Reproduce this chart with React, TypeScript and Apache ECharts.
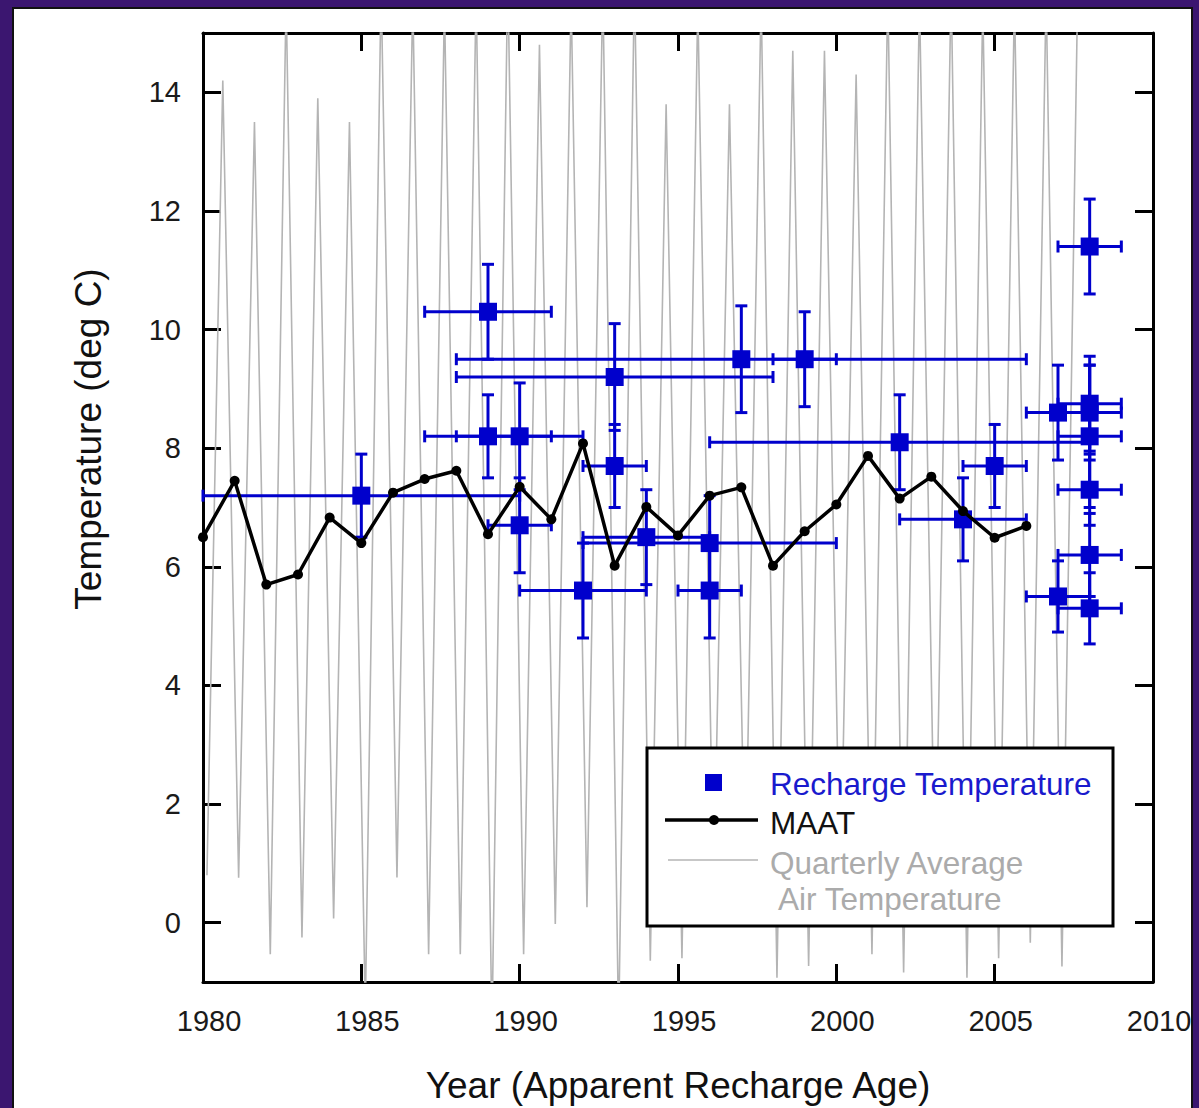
import React, { useEffect, useRef } from "react";
import * as echarts from "echarts";

// ---- Axis ticks ----
const yearTicks = [1980, 1985, 1990, 1995, 2000, 2005, 2010];
const tempTicks = [0, 2, 4, 6, 8, 10, 12, 14];

// ---- Mean annual air temperature (MAAT) ----
const maatYears = [
  1980, 1981, 1982, 1983, 1984, 1985, 1986, 1987, 1988, 1989, 1990, 1991, 1992, 1993,
  1994, 1995, 1996, 1997, 1998, 1999, 2000, 2001, 2002, 2003, 2004, 2005, 2006,
];
const maatValues = [
  6.5, 7.45, 5.7, 5.87, 6.83, 6.4, 7.25, 7.48, 7.62, 6.55, 7.35, 6.8, 8.08, 6.02,
  7.01, 6.53, 7.2, 7.34, 6.02, 6.6, 7.05, 7.87, 7.15, 7.52, 6.94, 6.49, 6.69,
];

// ---- Quarterly average air temperature: winter-quarter lows, summer-quarter highs ----
const qatYears = [
  1980, 1981, 1982, 1983, 1984, 1985, 1986, 1987, 1988, 1989, 1990, 1991, 1992, 1993,
  1994, 1995, 1996, 1997, 1998, 1999, 2000, 2001, 2002, 2003, 2004, 2005, 2006, 2007,
];
const qatWinter = [
  0.8, 0.76, -0.53, -0.25, 0.07, -1.5, 0.76, -0.53, -0.53, -1.8, -0.53, -0.02, 0.26, -1.8,
  -0.64, -0.6, 0.4, 0.5, -0.93, -0.73, 0.3, -0.53, -0.84, 0.3, -0.93, -0.6, -0.34, -0.74,
];
const qatSummer = [
  14.2, 13.5, 15.6, 13.9, 13.5, 15.8, 15.6, 15.5, 15.7, 16.0, 14.8, 15.6, 15.8, 15.9,
  13.8, 15.5, 13.8, 15.6, 14.7, 14.7, 14.3, 15.7, 15.6, 15.8, 15.5, 15.6, 15.7, 15.8,
];
// mid-points of the first (winter) and third (summer) quarters, as fractions of a year
const WINTER_QUARTER_MID = 0.125;
const SUMMER_QUARTER_MID = 0.625;

// ---- Recharge temperature with apparent-age and temperature uncertainties ----
const rtYear = [
  1985, 1989, 1989, 1990, 1990, 1992, 1993, 1993, 1994, 1996, 1996, 1997, 1999, 2002,
  2004, 2005, 2007, 2007, 2008, 2008, 2008, 2008, 2008, 2008, 2008,
];
const rtTemp = [
  7.2, 10.3, 8.2, 8.2, 6.7, 5.6, 9.2, 7.7, 6.5, 6.4, 5.6, 9.5, 9.5, 8.1,
  6.8, 7.7, 8.6, 5.5, 11.4, 8.75, 8.6, 8.2, 7.3, 6.2, 5.3,
];
const rtYearErr = [5, 2, 2, 2, 1, 2, 5, 1, 2, 4, 1, 9, 1, 6, 2, 1, 1, 1, 1, 1, 1, 1, 1, 1, 1];
const rtTempErr = [
  0.7, 0.8, 0.7, 0.9, 0.8, 0.8, 0.9, 0.7, 0.8, 0.8, 0.8, 0.9, 0.8, 0.8,
  0.7, 0.7, 0.8, 0.6, 0.8, 0.8, 0.8, 1.2, 0.6, 0.7, 0.6,
];

const BLUE = "#0000cc";
const GRAY = "#b4b4b4";
const FONT = '"Liberation Sans", Arial, Helvetica, sans-serif';

function buildOption(): echarts.EChartsOption {
  const qatData: number[][] = [];
  qatYears.forEach((y, i) => {
    qatData.push([y + WINTER_QUARTER_MID, qatWinter[i]]);
    qatData.push([y + SUMMER_QUARTER_MID, qatSummer[i]]);
  });
  const maatData = maatYears.map((y, i) => [y, maatValues[i]]);
  const rtData = rtYear.map((y, i) => [y, rtTemp[i]]);
  const rtErrData = rtYear.map((y, i) => [y, rtTemp[i], rtYearErr[i], rtTempErr[i]]);

  const axisLine = { show: true, onZero: false, lineStyle: { color: "#000", width: 3 } };
  const tick = { show: true, inside: true, length: 18, lineStyle: { color: "#000", width: 3 } };

  return {
    animation: false,
    grid: { left: 203, right: 46, top: 33, bottom: 126, containLabel: false },
    xAxis: [
      {
        type: "value",
        min: yearTicks[0],
        max: yearTicks[yearTicks.length - 1],
        interval: 5,
        position: "bottom",
        axisLine,
        axisTick: tick,
        splitLine: { show: false },
        axisLabel: {
          fontSize: 29,
          color: "#1a1a1a",
          fontFamily: FONT,
          margin: 24,
          padding: [0, 0, 0, 12],
          formatter: (v: number) => String(v),
        },
      },
      {
        type: "value",
        min: yearTicks[0],
        max: yearTicks[yearTicks.length - 1],
        interval: 5,
        position: "top",
        axisLine,
        axisTick: tick,
        splitLine: { show: false },
        axisLabel: { show: false },
      },
    ],
    yAxis: [
      {
        type: "value",
        min: -1,
        max: 15,
        position: "left",
        axisLine,
        axisTick: { ...tick, customValues: tempTicks },
        splitLine: { show: false },
        axisLabel: {
          customValues: tempTicks,
          fontSize: 29,
          color: "#1a1a1a",
          fontFamily: FONT,
          margin: 22,
          formatter: (v: number) => String(v),
        },
      },
      {
        type: "value",
        min: -1,
        max: 15,
        position: "right",
        axisLine,
        axisTick: { ...tick, customValues: tempTicks },
        splitLine: { show: false },
        axisLabel: { show: false },
      },
    ],
    series: [
      {
        name: "Quarterly Average Air Temperature",
        type: "line",
        data: qatData,
        showSymbol: false,
        clip: true,
        z: 1,
        lineStyle: { color: GRAY, width: 1.6 },
      },
      {
        name: "Recharge Temperature error",
        type: "custom",
        data: rtErrData,
        encode: { x: 0, y: 1 },
        z: 3,
        renderItem: (params: any, api: any) => {
          const x = api.value(0);
          const y = api.value(1);
          const xe = api.value(2);
          const ye = api.value(3);
          const c = api.coord([x, y]);
          const l = api.coord([x - xe, y]);
          const r = api.coord([x + xe, y]);
          const t = api.coord([x, y + ye]);
          const b = api.coord([x, y - ye]);
          const cap = 6;
          const style = { stroke: BLUE, lineWidth: 3, opacity: 1 };
          return {
            type: "group",
            children: [
              { type: "line", shape: { x1: l[0], y1: c[1], x2: r[0], y2: c[1] }, style },
              { type: "line", shape: { x1: l[0], y1: c[1] - cap, x2: l[0], y2: c[1] + cap }, style },
              { type: "line", shape: { x1: r[0], y1: c[1] - cap, x2: r[0], y2: c[1] + cap }, style },
              { type: "line", shape: { x1: c[0], y1: t[1], x2: c[0], y2: b[1] }, style },
              { type: "line", shape: { x1: c[0] - cap, y1: t[1], x2: c[0] + cap, y2: t[1] }, style },
              { type: "line", shape: { x1: c[0] - cap, y1: b[1], x2: c[0] + cap, y2: b[1] }, style },
            ],
          };
        },
      },
      {
        name: "Recharge Temperature",
        type: "scatter",
        data: rtData,
        symbol: "rect",
        symbolSize: 18,
        z: 4,
        itemStyle: { color: BLUE, opacity: 1 },
      },
      {
        name: "MAAT",
        type: "line",
        data: maatData,
        symbol: "circle",
        symbolSize: 10,
        showSymbol: true,
        z: 5,
        lineStyle: { color: "#000", width: 3.5 },
        itemStyle: { color: "#000", opacity: 1 },
      },
    ],
    graphic: [
      {
        type: "text",
        x: 678,
        y: 1085,
        z: 50,
        style: {
          text: "Year (Apparent Recharge Age)",
          fontSize: 37,
          fontFamily: FONT,
          fill: "#111",
          align: "center",
          verticalAlign: "middle",
        },
      },
      {
        type: "text",
        x: 88,
        y: 439,
        rotation: Math.PI / 2,
        z: 50,
        style: {
          text: "Temperature (deg C)",
          fontSize: 37,
          fontFamily: FONT,
          fill: "#111",
          align: "center",
          verticalAlign: "middle",
        },
      },
      {
        type: "group",
        z: 100,
        children: [
          {
            type: "rect",
            z: 100,
            shape: { x: 647, y: 748, width: 466, height: 178 },
            style: { fill: "#fff", stroke: "#000", lineWidth: 3 },
          },
          {
            type: "rect",
            z: 101,
            shape: { x: 705, y: 774, width: 17, height: 17 },
            style: { fill: BLUE },
          },
          {
            type: "text",
            z: 101,
            x: 770,
            y: 784,
            style: {
              text: "Recharge Temperature",
              fontSize: 31.5,
              fontFamily: FONT,
              fill: "#1a1acd",
              verticalAlign: "middle",
            },
          },
          {
            type: "line",
            z: 101,
            shape: { x1: 665, y1: 820, x2: 758, y2: 820 },
            style: { stroke: "#000", lineWidth: 3.5 },
          },
          {
            type: "circle",
            z: 101,
            shape: { cx: 714, cy: 820, r: 5 },
            style: { fill: "#000" },
          },
          {
            type: "text",
            z: 101,
            x: 770,
            y: 823,
            style: { text: "MAAT", fontSize: 31.5, fontFamily: FONT, fill: "#111", verticalAlign: "middle" },
          },
          {
            type: "line",
            z: 101,
            shape: { x1: 668, y1: 860, x2: 758, y2: 860 },
            style: { stroke: GRAY, lineWidth: 1.6 },
          },
          {
            type: "text",
            z: 101,
            x: 770,
            y: 863,
            style: {
              text: "Quarterly Average",
              fontSize: 31.5,
              fontFamily: FONT,
              fill: "#ababab",
              verticalAlign: "middle",
            },
          },
          {
            type: "text",
            z: 101,
            x: 778,
            y: 899,
            style: {
              text: "Air Temperature",
              fontSize: 31.5,
              fontFamily: FONT,
              fill: "#ababab",
              verticalAlign: "middle",
            },
          },
        ],
      },
    ],
  };
}

export default function App() {
  const ref = useRef<HTMLDivElement>(null);

  useEffect(() => {
    if (!ref.current) return;
    const chart = echarts.init(ref.current, undefined, { renderer: "svg" });
    chart.setOption(buildOption());
    return () => chart.dispose();
  }, []);

  return (
    <div
      style={{
        position: "absolute",
        left: 0,
        top: 0,
        width: 1199,
        height: 1108,
        overflow: "hidden",
        background: "#3b1670",
      }}
    >
      <div
        style={{
          position: "absolute",
          left: 12,
          top: 7,
          width: 1177,
          height: 1110,
          background: "#ffffff",
          border: "2px solid #111",
        }}
      />
      <div ref={ref} style={{ position: "absolute", left: 0, top: 0, width: 1199, height: 1108 }} />
    </div>
  );
}
